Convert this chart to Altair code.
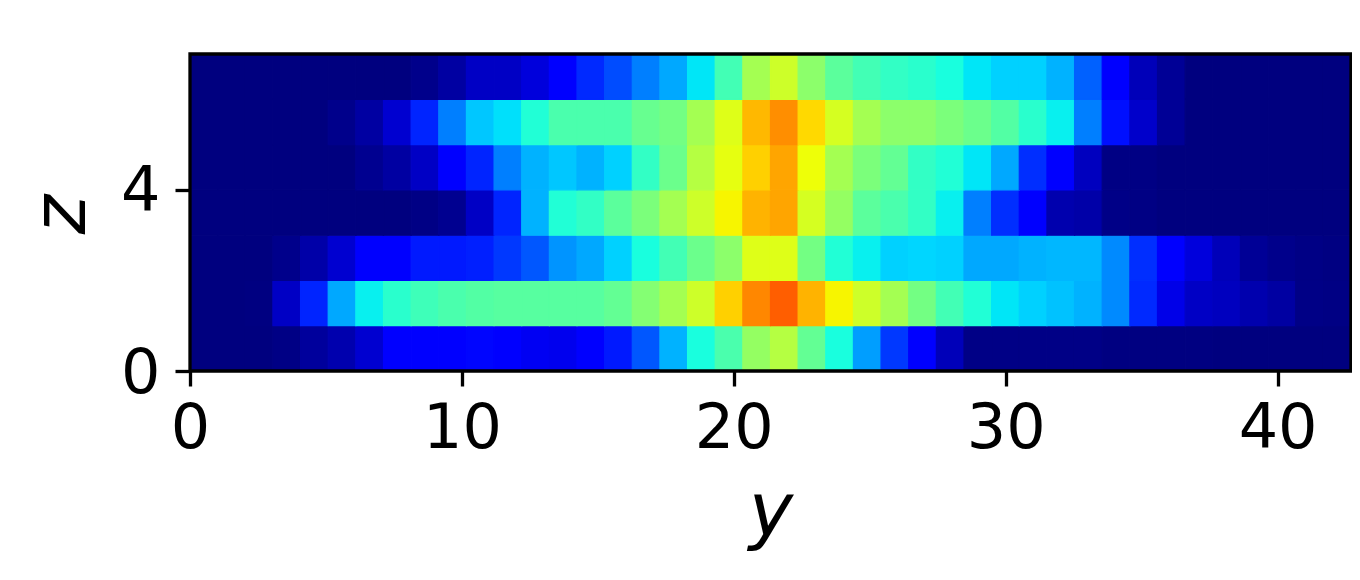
import altair as alt
import pandas as pd

x_max = 42.7
y_max = 7
n_cols = 42
x_ticks = [0, 10, 20, 30, 40]
y_ticks = [0, 4]

row_0 = [0,0,0,.005,.025,.04,.07,.11,.125,.125,.13,.11,.10,.095,.11,.15,.21,.30,.38,.44,.53,.57,.47,.38,.28,.18,.11,.05,.006,.006,.006,.006,.006,.002,.002,.002,.002,0,0,0,0,0]
row_1 = [0,0,.002,.06,.16,.29,.36,.40,.425,.44,.45,.455,.455,.455,.455,.47,.51,.55,.60,.69,.767,.81,.72,.65,.60,.55,.49,.43,.39,.35,.33,.315,.30,.26,.165,.09,.06,.055,.04,.03,.006,.004]
row_2 = [0,0,0,.01,.035,.07,.11,.125,.15,.15,.155,.18,.21,.27,.29,.33,.38,.43,.48,.52,.62,.62,.49,.39,.36,.33,.335,.33,.29,.29,.30,.305,.305,.26,.17,.11,.08,.05,.02,.01,.005,.003]
row_3 = [0,0,0,0,0,0,0,0,.005,.015,.06,.16,.30,.39,.41,.46,.50,.55,.60,.65,.72,.735,.61,.53,.46,.44,.41,.36,.25,.17,.11,.04,.035,.007,.004,0,0,0,0,0,0,0]
row_4 = [0,0,0,0,0,0,.015,.03,.06,.11,.16,.25,.30,.32,.30,.33,.41,.48,.57,.63,.69,.735,.64,.55,.50,.47,.41,.39,.35,.29,.17,.11,.055,.004,.004,0,0,0,0,0,0,0]
row_5 = [0,0,0,0,0,.01,.03,.07,.16,.25,.32,.345,.39,.44,.44,.44,.475,.49,.55,.62,.715,.76,.68,.61,.55,.52,.52,.50,.48,.45,.40,.36,.25,.14,.065,.02,0,0,0,0,0,0]
row_6 = [0,0,0,0,0,0,0,0,.01,.03,.06,.06,.08,.11,.165,.20,.25,.29,.35,.43,.55,.60,.52,.46,.43,.41,.40,.38,.35,.33,.33,.30,.22,.11,.05,.02,0,0,0,0,0,0]
rows = [row_0, row_1, row_2, row_3, row_4, row_5, row_6]

jet_stops = [0, .11, .125, .34, .35, .375, .64, .65, .66, .89, .91, 1]
jet_colors = ["#00007f", "#0000ff", "#0000ff", "#00dbff", "#00e6f7", "#15ffe2",
              "#eeff08", "#f7f500", "#ffec00", "#ff1300", "#e80000", "#7f0000"]

cw = x_max / n_cols
records = []
for z, vals in enumerate(rows):
    for i, v in enumerate(vals):
        records.append(dict(x0=i * cw, x1=(i + 1) * cw, z0=z, z1=z + 1, v=v))
df = pd.DataFrame(records)

FONT = "DejaVu Sans"
x_scale = alt.Scale(domain=[0, x_max], nice=False, zero=False)
y_scale = alt.Scale(domain=[0, y_max], nice=False, zero=False)
jet = alt.Scale(domain=jet_stops, range=jet_colors, interpolate="rgb")

cells = alt.Chart(df).mark_rect(strokeWidth=1.2).encode(
    x=alt.X("x0:Q", scale=x_scale, axis=alt.Axis(
        title="y", values=x_ticks, format="d", grid=False, domain=False, titleFontStyle="italic",
        titleFont=FONT, titleFontWeight="normal", titleFontSize=75, titlePadding=17,
        labelFont=FONT, labelFontSize=62, labelPadding=12, labelColor="black", titleColor="black",
        tickColor="black", tickWidth=3.3, tickSize=15, labelFlush=False, labelOverlap=False)),
    x2="x1:Q",
    y=alt.Y("z0:Q", scale=y_scale, axis=alt.Axis(
        title="z", values=y_ticks, format="d", grid=False, domain=False, titleFontStyle="italic",
        titleFont=FONT, titleFontWeight="normal", titleFontSize=75, titlePadding=20, titleY=160,
        labelFont=FONT, labelFontSize=62, labelPadding=15, labelOffset=2, labelColor="black", titleColor="black",
        tickColor="black", tickWidth=3.3, tickSize=15, labelFlush=False, labelOverlap=False)),
    y2="z1:Q",
    color=alt.Color("v:Q", legend=None, scale=jet),
    stroke=alt.Stroke("v:Q", legend=None, scale=jet),
)

frame = alt.Chart(pd.DataFrame({"a": [0], "b": [x_max], "c": [0], "d": [y_max]})).mark_rect(
    fill=None, fillOpacity=0, stroke="black", strokeWidth=3.3
).encode(
    x=alt.X("a:Q", scale=x_scale),
    x2="b:Q",
    y=alt.Y("c:Q", scale=y_scale),
    y2="d:Q",
)

chart = alt.layer(cells, frame).resolve_scale(color="independent", stroke="independent").properties(
    width=1161, height=317,
    autosize=alt.AutoSizeParams(type="none"),
    padding={"left": 182, "top": 46, "right": 1, "bottom": 190},
).configure_view(stroke=None)

chart.save("out.html", embed_options={"renderer": "svg", "actions": False})
